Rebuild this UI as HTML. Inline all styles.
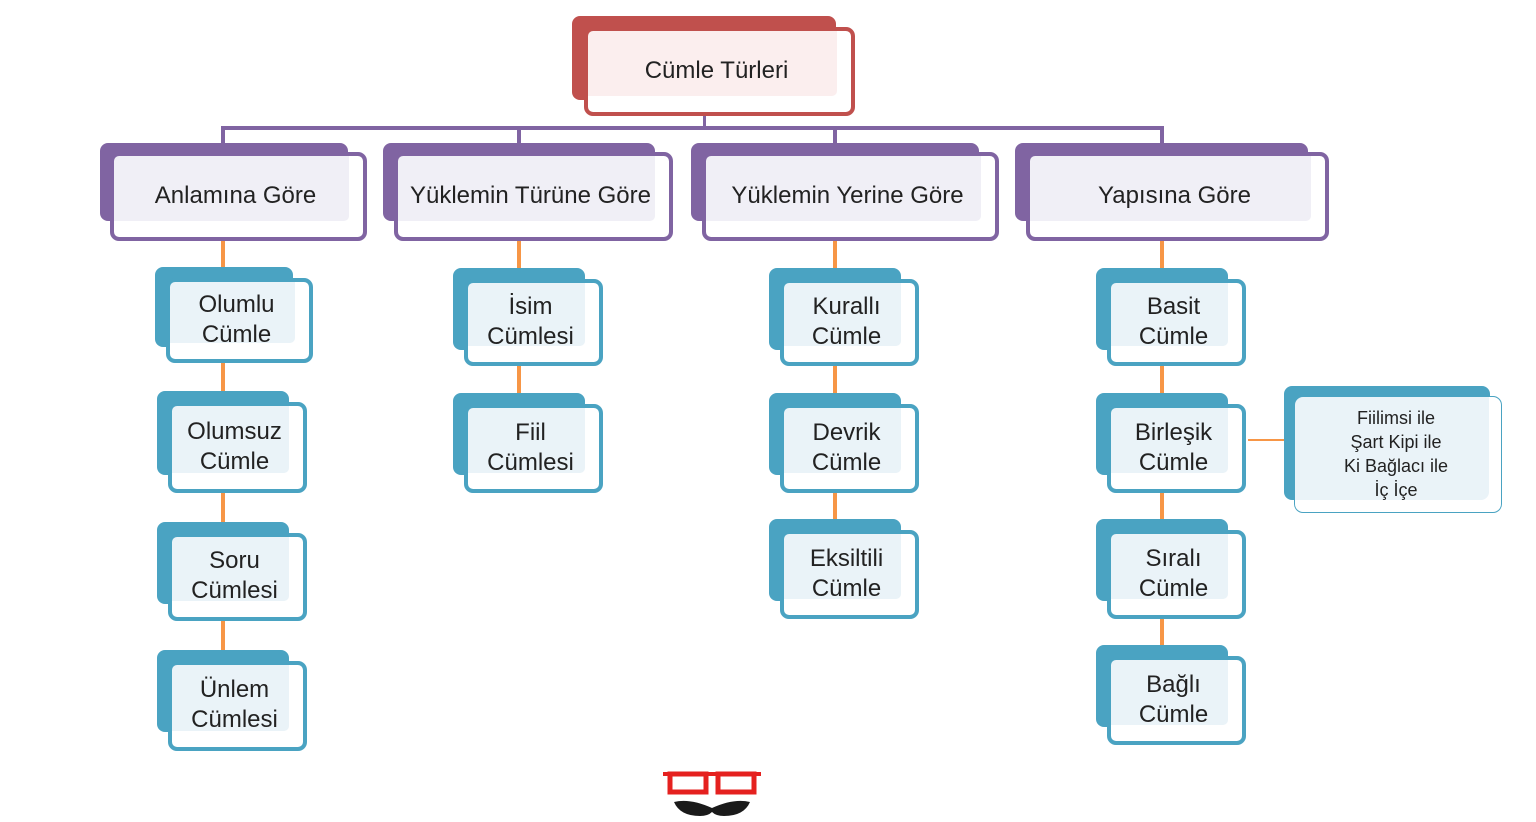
<!DOCTYPE html>
<html><head><meta charset="utf-8"><style>
body{margin:0;width:1536px;height:822px;background:#fff;position:relative;overflow:hidden;font-family:"Liberation Sans","DejaVu Sans",sans-serif;}
.b,.f,.l{position:absolute;box-sizing:border-box;}
.b{border-radius:8px;}
.f{border:4px solid;border-radius:9px;display:flex;align-items:center;justify-content:center;text-align:center;color:#222;box-shadow:inset -14px -16px 0 #fff;padding:0 6px 2px 0;}
.p{border-color:#8064a2;background:#f0eff6;font-size:24px;}
.t{border-color:#4aa3c2;background:#eaf3f8;font-size:24px;line-height:30px;}
.l{background:#f79646;width:4px;}
</style></head><body>
<!-- connectors -->
<div class="l" style="left:703px;top:105px;width:3px;height:24px;background:#8064a2"></div>
<div class="l" style="left:221px;top:126px;width:943px;height:4px;background:#8064a2"></div>
<div class="l" style="left:221px;top:126px;height:18px;background:#8064a2"></div>
<div class="l" style="left:517px;top:126px;height:18px;background:#8064a2"></div>
<div class="l" style="left:833px;top:126px;height:18px;background:#8064a2"></div>
<div class="l" style="left:1160px;top:126px;height:18px;background:#8064a2"></div>
<div class="l" style="left:221px;top:240px;height:420px;"></div>
<div class="l" style="left:517px;top:240px;height:160px;"></div>
<div class="l" style="left:833px;top:240px;height:290px;"></div>
<div class="l" style="left:1160px;top:240px;height:415px;"></div>
<div class="l" style="left:1248px;top:439px;width:38px;height:2px;"></div>

<!-- root -->
<div class="b" style="left:572px;top:16px;width:264px;height:84px;background:#c0504d"></div>
<div class="f" style="left:584px;top:27px;width:271px;height:89px;border-color:#c0504d;background:#fbeeee;font-size:24px;">Cümle Türleri</div>

<!-- level 1 -->
<div class="b" style="left:100px;top:143px;width:248px;height:78px;background:#8064a2"></div>
<div class="f p" style="left:110px;top:152px;width:257px;height:89px;">Anlamına Göre</div>
<div class="b" style="left:383px;top:143px;width:272px;height:78px;background:#8064a2"></div>
<div class="f p" style="left:394px;top:152px;width:279px;height:89px;">Yüklemin Türüne Göre</div>
<div class="b" style="left:691px;top:143px;width:288px;height:78px;background:#8064a2"></div>
<div class="f p" style="left:702px;top:152px;width:297px;height:89px;">Yüklemin Yerine Göre</div>
<div class="b" style="left:1015px;top:143px;width:293px;height:78px;background:#8064a2"></div>
<div class="f p" style="left:1026px;top:152px;width:303px;height:89px;">Yapısına Göre</div>

<!-- col1 -->
<div class="b" style="left:155px;top:267px;width:138px;height:80px;background:#4aa3c2"></div>
<div class="f t" style="left:166px;top:278px;width:147px;height:85px;">Olumlu<br>Cümle</div>
<div class="b" style="left:157px;top:391px;width:132px;height:84px;background:#4aa3c2"></div>
<div class="f t" style="left:168px;top:402px;width:139px;height:91px;">Olumsuz<br>Cümle</div>
<div class="b" style="left:157px;top:522px;width:132px;height:82px;background:#4aa3c2"></div>
<div class="f t" style="left:168px;top:533px;width:139px;height:88px;">Soru<br>Cümlesi</div>
<div class="b" style="left:157px;top:650px;width:132px;height:82px;background:#4aa3c2"></div>
<div class="f t" style="left:168px;top:661px;width:139px;height:90px;">Ünlem<br>Cümlesi</div>

<!-- col2 -->
<div class="b" style="left:453px;top:268px;width:132px;height:82px;background:#4aa3c2"></div>
<div class="f t" style="left:464px;top:279px;width:139px;height:87px;">İsim<br>Cümlesi</div>
<div class="b" style="left:453px;top:393px;width:132px;height:82px;background:#4aa3c2"></div>
<div class="f t" style="left:464px;top:404px;width:139px;height:89px;">Fiil<br>Cümlesi</div>

<!-- col3 -->
<div class="b" style="left:769px;top:268px;width:132px;height:82px;background:#4aa3c2"></div>
<div class="f t" style="left:780px;top:279px;width:139px;height:87px;">Kurallı<br>Cümle</div>
<div class="b" style="left:769px;top:393px;width:132px;height:82px;background:#4aa3c2"></div>
<div class="f t" style="left:780px;top:404px;width:139px;height:89px;">Devrik<br>Cümle</div>
<div class="b" style="left:769px;top:519px;width:132px;height:82px;background:#4aa3c2"></div>
<div class="f t" style="left:780px;top:530px;width:139px;height:89px;">Eksiltili<br>Cümle</div>

<!-- col4 -->
<div class="b" style="left:1096px;top:268px;width:132px;height:82px;background:#4aa3c2"></div>
<div class="f t" style="left:1107px;top:279px;width:139px;height:87px;">Basit<br>Cümle</div>
<div class="b" style="left:1096px;top:393px;width:132px;height:82px;background:#4aa3c2"></div>
<div class="f t" style="left:1107px;top:404px;width:139px;height:89px;">Birleşik<br>Cümle</div>
<div class="b" style="left:1096px;top:519px;width:132px;height:82px;background:#4aa3c2"></div>
<div class="f t" style="left:1107px;top:530px;width:139px;height:89px;">Sıralı<br>Cümle</div>
<div class="b" style="left:1096px;top:645px;width:132px;height:82px;background:#4aa3c2"></div>
<div class="f t" style="left:1107px;top:656px;width:139px;height:89px;">Bağlı<br>Cümle</div>

<!-- side -->
<div class="b" style="left:1284px;top:386px;width:206px;height:114px;background:#4aa3c2"></div>
<div class="f" style="left:1294px;top:396px;width:208px;height:117px;border:1.5px solid #4aa3c2;background:#eaf3f8;box-shadow:inset -12px -12px 0 #fff;font-size:18px;line-height:24px;padding:0 4px 2px 0;">Fiilimsi ile<br>Şart Kipi ile<br>Ki Bağlacı ile<br>İç İçe</div>

<!-- logo -->
<svg style="position:absolute;left:660px;top:768px" width="110" height="54">
<rect x="10" y="6" width="36" height="18" fill="none" stroke="#e5211f" stroke-width="5"/>
<rect x="58" y="6" width="36" height="18" fill="none" stroke="#e5211f" stroke-width="5"/>
<line x1="3" y1="6" x2="101" y2="6" stroke="#e5211f" stroke-width="4"/>
<path d="M14 34 Q30 30 52 40 Q74 30 90 34 Q84 48 64 48 Q56 48 52 44 Q48 48 40 48 Q20 48 14 34Z" fill="#1a1a1a"/>
</svg>
</body></html>
